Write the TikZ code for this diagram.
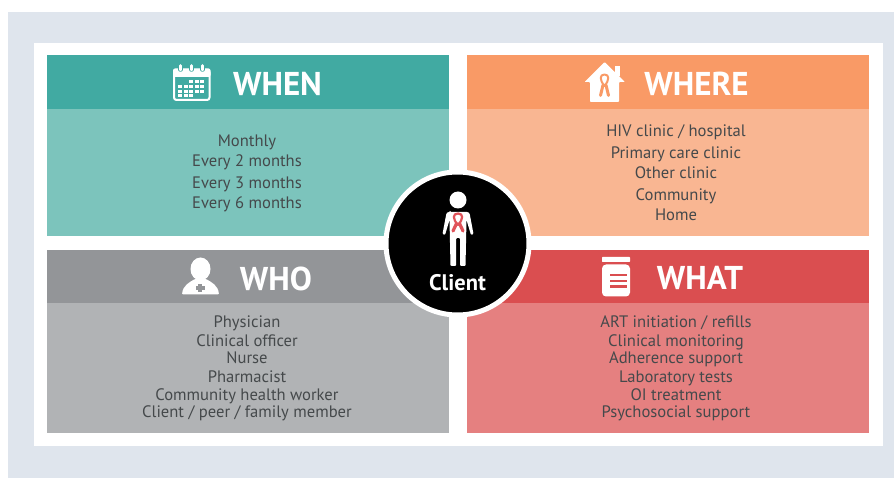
\documentclass[tikz,border=0pt]{standalone}
\usepackage{fontspec}
\setmainfont{PT Sans}
\definecolor{bgblue}{HTML}{DFE5ED}
\definecolor{tealH}{HTML}{41AAA2}
\definecolor{tealB}{HTML}{7CC4BC}
\definecolor{orH}{HTML}{F99A66}
\definecolor{orB}{HTML}{F9B692}
\definecolor{grH}{HTML}{939598}
\definecolor{grB}{HTML}{B1B3B5}
\definecolor{reH}{HTML}{DA4E50}
\definecolor{reB}{HTML}{E58080}
\definecolor{txt}{HTML}{45494B}
\definecolor{ribbon}{HTML}{E0535A}
\tikzset{
 head/.style={font=\fontsize{33}{33}\selectfont\bfseries,text=white,inner sep=0pt,anchor=center},
 items/.style={text=txt,align=center,inner sep=0pt,anchor=center},
 rib/.style={line width=#1,line cap=round,line join=round}
}
\newcommand{\itemfont}[1]{\fontsize{16.6}{#1}\selectfont}
\begin{document}
\begin{tikzpicture}[x=1pt,y=-1pt]
\useasboundingbox (0,0) rectangle (894,478);
\fill[white] (0,0) rectangle (894,478);
\fill[bgblue] (8,12) rectangle (894,478);
\fill[white] (34,43) rectangle (883,446);
% panels
\fill[tealB] (47,55) rectangle (449,236);
\fill[tealH] (47,55) rectangle (449,109);
\fill[orB] (467,55) rectangle (869,236);
\fill[orH] (467,55) rectangle (869,109);
\fill[grB] (47,250) rectangle (449,433);
\fill[grH] (47,250) rectangle (449,303);
\fill[reB] (467,250) rectangle (869,433);
\fill[reH] (467,250) rectangle (869,303);
% headings
\node[head] (when) at (277.5,84) {WHEN};
\node[head] (where) at (696.5,84) {WHERE};
\node[head] (who) at (276,279) {WHO};
\node[head] (what) at (700,278) {WHAT};
% lists
\node[items,font=\itemfont{20}] (whenl) at (247,173) {Monthly\\Every 2 months\\[2pt]Every 3 months\\Every 6 months};
\node[items,font=\itemfont{20}] (wherel) at (676,172.5) {HIV clinic / hospital\\[2pt]Primary care clinic\\Other clinic\\[2pt]Community\\Home};
\node[items,font=\itemfont{17}] (whol) at (247,368.5) {Physician\\[2pt]Clinical officer\\Nurse\\[2pt]Pharmacist\\[1pt]Community health worker\\Client / peer / family member};
\node[items,font=\itemfont{17}] (whatl) at (676,368.5) {ART initiation / refills\\[2pt]Clinical monitoring\\Adherence support\\[2pt]Laboratory tests\\[1pt]OI treatment\\Psychosocial support};
% calendar icon
\draw[white,line width=2pt,rounded corners=2.5pt] (174,70) rectangle (209.5,100);
\fill[white,rounded corners=2pt] (173,68.5) rectangle (210.5,77);
\foreach \x in {180.5,191.5,202.5}{\draw[tealH,line width=4.6pt,line cap=round] (\x,65)--(\x,69.5);\draw[white,line width=2.6pt,line cap=round] (\x,65.5)--(\x,70);}
\foreach \x/\y in {191/81.5,196.5/81.5,202/81.5,180/86.5,185.5/86.5,191/86.5,196.5/86.5,202/86.5,180/91.5,185.5/91.5,191/91.5,196.5/91.5,202/91.5,180/96,185.5/96,191/96}
 {\fill[white] (\x-2,\y-1.5) rectangle (\x+2,\y+1.5);}
% house icon
\fill[white,rounded corners=.8pt] (604.5,62) -- (625,82) -- (619,82) -- (619,102) -- (590,102) -- (590,82) -- (584.5,82) -- cycle;
\fill[white] (615,66) rectangle (619.5,76);
\draw[orH,rib=2pt] (604.5,74.5) .. controls (599.5,74.5) and (599.5,80) .. (604.5,86) .. controls (609.5,80) and (609.5,74.5) .. (604.5,74.5);
\draw[orH,rib=3pt] (603,85) -- (600.5,95.5);
\draw[orH,rib=3pt] (606,85) -- (608.5,95.5);
% doctor icon
\fill[white] (200.5,269) ellipse (10 and 11.5);
\fill[white,rounded corners=1pt] (182,294.5) .. controls (183,285) and (190,282) .. (195,279) -- (206,279) .. controls (211,282) and (218,285) .. (219,294.5) -- cycle;
\fill[grH] (198.4,284) rectangle (202,292.5);
\fill[grH] (196,286.5) rectangle (204.5,290);
% jar icon
\fill[white,rounded corners=.7pt] (602,257) rectangle (630,262);
\fill[white,rounded corners=4pt] (602,264.5) rectangle (630,296.5);
\foreach \y in {275,281,286.5}{\fill[reH] (609.5,\y-1.3) rectangle (627,\y+1.3);}
% centre circle
\node[circle,fill=black,draw=white,line width=5pt,minimum size=143pt,inner sep=0pt] (client) at (457.5,243.5) {};
\node[font=\fontsize{22.5}{22}\selectfont\bfseries,text=white,inner sep=0pt] (clientl) at (457.5,283) {Client};
% person
\fill[white] (458,200) circle (8.5);
\fill[white,rounded corners=1pt] (450,212) -- (466,212) .. controls (468.5,212) and (469.5,213) .. (470,215.5) -- (473.5,234) -- (471,235) -- (466.5,220) -- (465.5,266) -- (460,266) -- (460,238) -- (456,238) -- (456,266) -- (450.5,266) -- (449.5,220) -- (445,235) -- (442.5,234) -- (446,215.5) .. controls (446.5,213) and (447.5,212) .. (450,212) -- cycle;
% ribbon
\draw[ribbon,rib=2.2pt] (458,213.5) .. controls (452.5,213.5) and (452.5,219) .. (458,225) .. controls (463.5,219) and (463.5,213.5) .. (458,213.5);
\draw[ribbon,rib=3.2pt] (456.5,223.5) -- (453,231);
\draw[ribbon,rib=3.2pt] (459.5,223.5) -- (463,231);
\end{tikzpicture}
\end{document}
